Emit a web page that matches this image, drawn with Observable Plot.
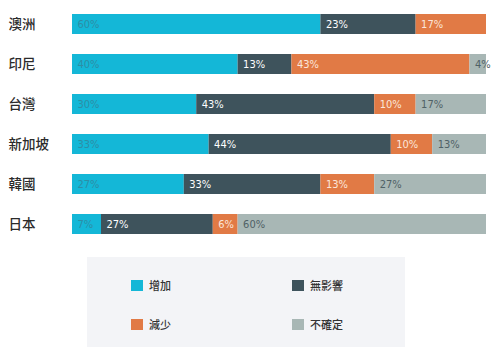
<!DOCTYPE html>
<html>
<head>
<meta charset="utf-8">
<script src="https://cdn.jsdelivr.net/npm/d3@7"></script>
<script src="https://cdn.jsdelivr.net/npm/@observablehq/plot@0.6"></script>
<style>
  html, body { margin: 0; padding: 0; background: #ffffff; }
  #chart { width: 500px; }
  #chart svg { display: block; }
  .lg {
    position: relative; margin-left: 87px; margin-top: 13px; width: 318px; height: 90px;
    background: #f3f4f7; font-family: "Noto Sans CJK TC", "Noto Sans", sans-serif;
    font-size: 11px; color: #333; font-weight: 500;
  }
  .lg .item { position: absolute; display: flex; align-items: center; line-height: 12px; }
  .lg .sw { display: inline-block; width: 12px; height: 11px; margin-right: 6px; }
</style>
</head>
<body>
<div id="chart"></div>
<script>
const countries = ["澳洲", "印尼", "台灣", "新加坡", "韓國", "日本"];
const categories = ["增加", "無影響", "減少", "不確定"];
const colors = ["#14b7d7", "#3e535c", "#e17a45", "#a8b7b5"];
const labelColors = ["#2c8ea6", "#ffffff", "#fbe6da", "#4f6166"];
const increase  = [60, 40, 30, 33, 27, 7];
const noImpact  = [23, 13, 43, 44, 33, 27];
const decrease  = [17, 43, 10, 10, 13, 6];
const uncertain = [0, 4, 17, 13, 27, 60];

const series = [increase, noImpact, decrease, uncertain];
const data = [];
countries.forEach((c, i) => {
  categories.forEach((cat, j) => {
    const v = series[j][i];
    if (v > 0) data.push({country: c, category: cat, value: v, idx: j});
  });
});

const plot = Plot.plot({
  width: 500,
  height: 244,
  marginLeft: 72,
  marginRight: 14,
  marginTop: 4,
  marginBottom: 0,
  x: {domain: [0, 100], axis: null},
  y: {domain: countries, padding: 0.5, paddingOuter: 0.25, axis: null},
  color: {domain: categories, range: colors},
  marks: [
    Plot.barX(data, Plot.stackX({x: "value", y: "country", fill: "category", order: categories})),
    Plot.text(data, Plot.stackX1({
      x: "value", y: "country", z: "category", order: categories,
      text: d => d.value + "%",
      fill: d => labelColors[d.idx],
      dx: 5, textAnchor: "start",
      fontSize: 11,
      fontFamily: "'DejaVu Sans Condensed', 'Liberation Sans Narrow', Roboto, sans-serif",
      fontStretch: "condensed"
    })),
    Plot.text(countries, {
      x: 0, y: d => d, text: d => d, dx: -64, textAnchor: "start",
      fontSize: 13.5, fill: "#2b2b2b", fontWeight: 500,
      fontFamily: "'Noto Sans CJK TC', 'Noto Sans', sans-serif"
    })
  ]
});
const chart = document.getElementById("chart");
chart.appendChild(plot);

const legend = document.createElement("div");
legend.className = "lg";
const pos = [[44, 22], [205, 22], [44, 61], [205, 61]];
categories.forEach((cat, j) => {
  const it = document.createElement("div");
  it.className = "item";
  it.style.left = pos[j][0] + "px";
  it.style.top = pos[j][1] + "px";
  const sw = document.createElement("span");
  sw.className = "sw";
  sw.style.background = colors[j];
  const tx = document.createElement("span");
  tx.textContent = cat;
  it.appendChild(sw);
  it.appendChild(tx);
  legend.appendChild(it);
});
chart.appendChild(legend);
</script>
</body>
</html>
